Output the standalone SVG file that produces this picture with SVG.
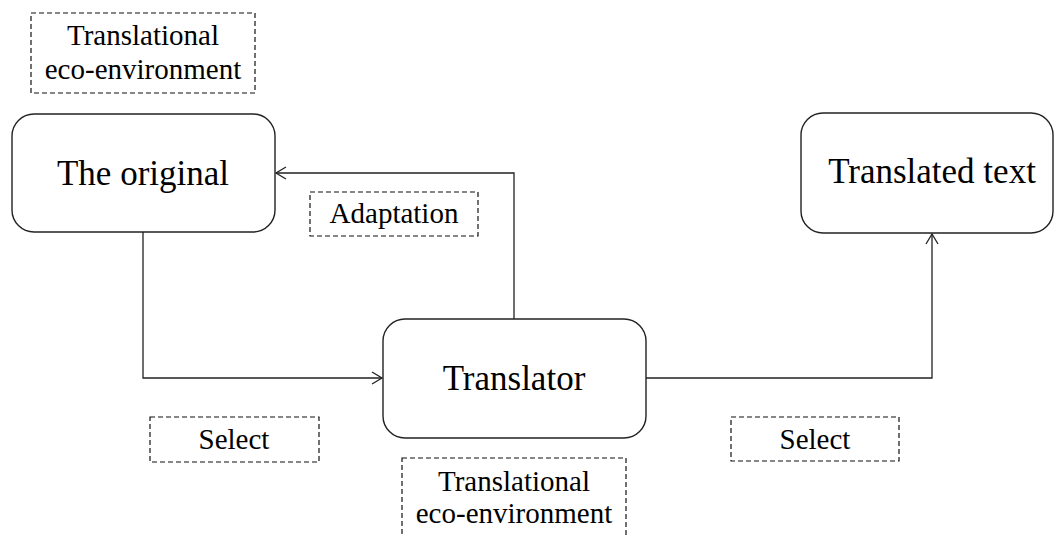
<svg xmlns="http://www.w3.org/2000/svg" width="1054" height="535" viewBox="0 0 1054 535">
<style>
.node{fill:#fff;stroke:#222;stroke-width:1.4}
.lbl{fill:#fff;stroke:#111;stroke-width:1.2;stroke-dasharray:5,3}
.conn{fill:none;stroke:#222;stroke-width:1.3}
.big{font-family:"Liberation Serif",serif;font-size:35px;fill:#000;text-anchor:middle}
.sm{font-family:"Liberation Serif",serif;font-size:29px;fill:#000;text-anchor:middle}
</style>
<defs>
<marker id="arr" markerWidth="14" markerHeight="14" refX="11" refY="7" orient="auto" markerUnits="userSpaceOnUse">
<path d="M1,1 L11,7 L1,13" fill="none" stroke="#222" stroke-width="1.3"/>
</marker>
</defs>
<rect width="1054" height="535" fill="#fff"/>
<g id="connectors">
<path class="conn" d="M143,232 V378 H382" marker-end="url(#arr)"/>
<path class="conn" d="M514,319 V173 H276" marker-end="url(#arr)"/>
<path class="conn" d="M646,378 H932 V234" marker-end="url(#arr)"/>
</g>
<g id="env-top">
<rect class="lbl" x="31" y="13" width="224" height="80"/>
<text class="sm" x="143" y="45">Translational</text>
<text class="sm" x="143" y="79">eco-environment</text>
</g>
<g id="original">
<rect class="node" x="12" y="114" width="263" height="118" rx="22"/>
<text class="big" x="143" y="185">The original</text>
</g>
<g id="adaptation">
<rect class="lbl" x="310" y="192" width="168" height="44"/>
<text class="sm" x="394" y="223">Adaptation</text>
</g>
<g id="translated">
<rect class="node" x="801" y="113" width="252" height="120" rx="22"/>
<text class="big" x="932" y="183">Translated text</text>
</g>
<g id="translator">
<rect class="node" x="383" y="319" width="263" height="119" rx="22"/>
<text class="big" x="514" y="390">Translator</text>
</g>
<g id="select-left">
<rect class="lbl" x="150" y="417" width="169" height="45"/>
<text class="sm" x="234" y="449">Select</text>
</g>
<g id="select-right">
<rect class="lbl" x="731" y="417" width="168" height="44"/>
<text class="sm" x="815" y="449">Select</text>
</g>
<g id="env-bottom">
<rect class="lbl" x="402" y="458" width="224" height="90"/>
<text class="sm" x="514" y="491">Translational</text>
<text class="sm" x="514" y="523">eco-environment</text>
</g>
</svg>
